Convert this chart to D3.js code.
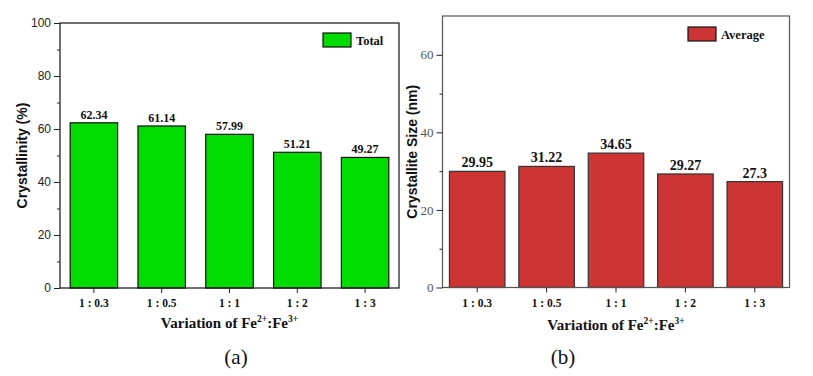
<!DOCTYPE html>
<html><head><meta charset="utf-8">
<script src="https://cdn.jsdelivr.net/npm/d3@7/dist/d3.min.js"></script>
<style>
body{margin:0;background:#fff;}
svg{display:block;}
</style></head>
<body>
<svg id="c" width="813" height="376"></svg>
<script>
const categories = ["1 : 0.3", "1 : 0.5", "1 : 1", "1 : 2", "1 : 3"];
const crystallinity = [62.34, 61.14, 57.99, 51.21, 49.27];
const crystalliteSize = [29.95, 31.22, 34.65, 29.27, 27.3];
const ticksA = [0, 20, 40, 60, 80, 100];
const minorA = [10, 30, 50, 70, 90];
const ticksB = [0, 20, 40, 60];
const minorB = [10, 30, 50];

const svg = d3.select("#c");
const serif = "Liberation Serif, DejaVu Serif, serif";
const sans = "Liberation Sans, Arial, sans-serif";

function panel(o) {
  const g = svg.append("g");
  const x = d3.scaleBand().domain(categories).range([o.x0, o.x1]).paddingInner(o.pad).paddingOuter(o.pad/2);
  const y = d3.scaleLinear().domain(o.dom).range([o.y0, o.y1]);
  g.selectAll("rect.bar").data(o.values).join("rect")
    .attr("x", (d,i) => x(categories[i])).attr("width", x.bandwidth())
    .attr("y", d => y(d)).attr("height", d => y(0) - y(d))
    .attr("fill", o.color).attr("stroke", o.stroke).attr("stroke-width", 1.2);
  g.selectAll("text.val").data(o.values).join("text")
    .attr("x", (d,i) => x(categories[i]) + x.bandwidth()/2)
    .attr("y", d => y(d) - 4)
    .attr("text-anchor", "middle")
    .attr("font-family", serif).attr("font-weight", "bold").attr("font-size", o.valSize)
    .attr("fill", "#111").text(d => d);
  g.append("rect").attr("x", o.x0).attr("y", o.y1).attr("width", o.x1 - o.x0).attr("height", o.y0 - o.y1)
    .attr("fill", "none").attr("stroke", o.frame).attr("stroke-width", 1.2);
  const ya = d3.axisLeft(y).tickValues(o.ticks).tickSize(6).tickPadding(3).tickFormat(d3.format("d"));
  const yg = g.append("g").attr("transform", `translate(${o.x0},0)`).call(ya)
    .attr("font-family", o.tickFont).attr("font-size", o.tickSize);
  yg.select(".domain").remove();
  yg.selectAll("line").attr("stroke", "#222");
  yg.selectAll("text").attr("fill", o.tickColor);
  const ym = d3.axisLeft(y).tickValues(o.minor).tickSize(3).tickFormat("");
  const ymg = g.append("g").attr("transform", `translate(${o.x0},0)`).call(ym);
  ymg.select(".domain").remove();
  ymg.selectAll("line").attr("stroke", "#222");
  const xa = d3.axisBottom(x).tickSize(5).tickPadding(6);
  const xg = g.append("g").attr("transform", `translate(0,${o.y0})`).call(xa)
    .attr("font-family", serif).attr("font-size", 11.5).attr("font-weight", "bold");
  xg.select(".domain").remove();
  xg.selectAll("line").attr("stroke", "#222");
  xg.selectAll("text").attr("fill", "#111");
  const cx = (o.x0 + o.x1) / 2;
  const t = g.append("text").attr("x", cx).attr("y", o.xTitleY).attr("text-anchor", "middle")
    .attr("font-family", serif).attr("font-weight", "bold").attr("font-size", 15).attr("fill", "#111");
  t.append("tspan").text("Variation of Fe");
  t.append("tspan").attr("dy", -6).attr("font-size", 9.5).text("2+");
  t.append("tspan").attr("dy", 6).text(":Fe");
  t.append("tspan").attr("dy", -6).attr("font-size", 9.5).text("3+");
  g.append("text").attr("transform", `translate(${o.yTitleX},${(o.y0 + o.y1)/2}) rotate(-90)`)
    .attr("text-anchor", "middle").attr("font-family", sans).attr("font-weight", "bold").attr("font-size", 14)
    .attr("fill", "#111").text(o.yTitle);
  g.append("rect").attr("x", o.lx).attr("y", o.ly).attr("width", 28).attr("height", 14)
    .attr("fill", o.color).attr("stroke", "#111").attr("stroke-width", 1.2);
  g.append("text").attr("x", o.lx + 33).attr("y", o.ly + 11.5)
    .attr("font-family", serif).attr("font-weight", "bold").attr("font-size", 12.5).attr("fill", "#111").text(o.legend);
  g.append("text").attr("x", o.labelX).attr("y", 364).attr("text-anchor", "middle")
    .attr("font-family", serif).attr("font-size", 21).attr("fill", "#111").text(o.label);
}

panel({x0: 60, x1: 399, y0: 288, y1: 23, dom: [0, 100], pad: 0.3, values: crystallinity,
  color: "#00dc00", stroke: "#111", frame: "#111", ticks: ticksA, minor: minorA,
  tickFont: sans, tickSize: 12, tickColor: "#222", valSize: 12,
  xTitleY: 328, yTitleX: 27, yTitle: "Crystallinity (%)", lx: 323, ly: 33, legend: "Total", label: "(a)", labelX: 236});

panel({x0: 442.5, x1: 789.5, y0: 287.5, y1: 16, dom: [0, 70], pad: 0.2, values: crystalliteSize,
  color: "#cd3535", stroke: "#333", frame: "#555", ticks: ticksB, minor: minorB,
  tickFont: serif, tickSize: 13, tickColor: "#555", valSize: 14,
  xTitleY: 330, yTitleX: 417, yTitle: "Crystallite Size (nm)", lx: 688, ly: 27, legend: "Average", label: "(b)", labelX: 563});
</script>
</body></html>
